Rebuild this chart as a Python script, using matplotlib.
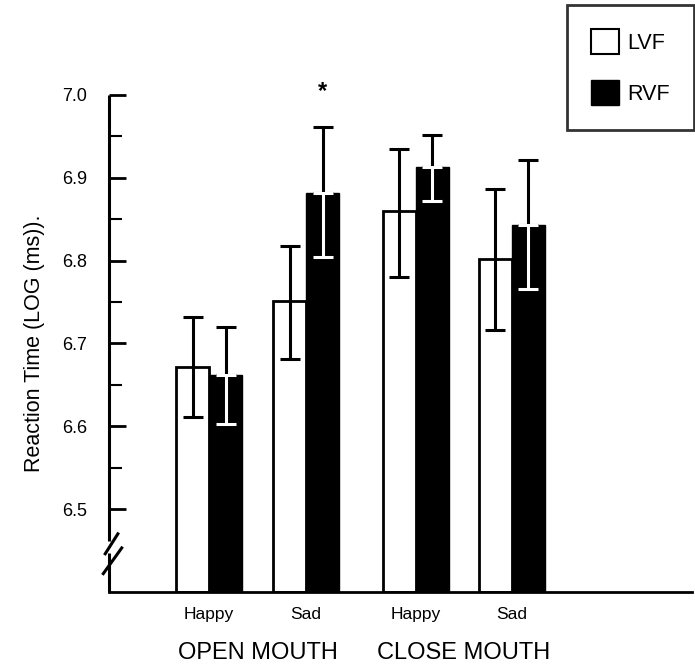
import matplotlib
matplotlib.use('Agg')
import matplotlib.pyplot as plt
from matplotlib.patches import Patch

plt.rcParams['font.family'] = ['Liberation Sans', 'DejaVu Sans']

# group centres (slightly wider gap between mouth conditions)
x_pos = [0.0, 1.0, 2.13, 3.12]
emotions = ['Happy', 'Sad', 'Happy', 'Sad']
mouths = ['OPEN MOUTH', 'CLOSE MOUTH']
lvf = [6.671, 6.751, 6.860, 6.802]
lvf_err_hi = [0.061, 0.066, 0.075, 0.084]
lvf_err_lo = [0.060, 0.070, 0.080, 0.086]
rvf = [6.662, 6.882, 6.913, 6.843]
rvf_err_hi = [0.058, 0.079, 0.039, 0.078]
rvf_err_lo = [0.059, 0.078, 0.041, 0.077]
star_group = 1

ymin, ymax = 6.4, 7.0
w = 0.34

fig = plt.figure(figsize=(6.95, 6.68), dpi=100)
ax = fig.add_axes([0.157, 0.114, 0.839, 0.744])

xl = [x - w / 2 for x in x_pos]
xr = [x + w / 2 for x in x_pos]
ax.bar(xl, [v - ymin for v in lvf], w, bottom=ymin, color='white',
       edgecolor='black', linewidth=2)
ax.bar(xr, [v - ymin for v in rvf], w, bottom=ymin, color='black',
       edgecolor='black', linewidth=1)

ax.errorbar(xl, lvf, yerr=[lvf_err_lo, lvf_err_hi], fmt='none', ecolor='black',
            elinewidth=2.2, capsize=7, capthick=2.2)
# RVF: upper part black, lower part white (inside the black bar)
ax.errorbar(xr, rvf, yerr=[[0] * 4, rvf_err_hi], fmt='none', ecolor='black',
            elinewidth=2.2, capsize=7, capthick=2.2)
ax.errorbar(xr, rvf, yerr=[rvf_err_lo, [0] * 4], fmt='none', ecolor='white',
            elinewidth=2.2, capsize=7, capthick=2.2)

ax.text(xr[star_group], 7.004, '*', ha='center', va='center', fontsize=17,
        fontweight='bold', clip_on=False)

ax.set_xlim(-1.03, 4.98)
ax.set_ylim(ymin, ymax)

ax.spines['top'].set_visible(False)
ax.spines['right'].set_visible(False)
ax.spines['left'].set_visible(False)
ax.spines['bottom'].set_linewidth(2)

# left axis with break
ax.plot([-1.03, -1.03], [6.461, 7.0], color='black', lw=2.2, clip_on=False,
        solid_capstyle='butt')
ax.plot([-1.03, -1.03], [ymin, 6.447], color='black', lw=2.2, clip_on=False,
        solid_capstyle='butt')
ax.plot([-1.07, -0.94], [6.446, 6.470], color='black', lw=2.2, clip_on=False)
ax.plot([-1.09, -0.90], [6.422, 6.453], color='black', lw=2.2, clip_on=False)

ax.set_yticks([6.5, 6.6, 6.7, 6.8, 6.9, 7.0])
ax.set_yticklabels(['6.5', '6.6', '6.7', '6.8', '6.9', '7.0'])
ax.set_yticks([6.55, 6.65, 6.75, 6.85, 6.95], minor=True)
ax.tick_params(axis='y', which='major', direction='in', length=12, width=2,
               labelsize=13, pad=16)
ax.tick_params(axis='y', which='minor', direction='in', length=9, width=1.5)

ax.set_xticks(x_pos)
ax.set_xticklabels(emotions)
ax.tick_params(axis='x', length=0, labelsize=12.5, pad=11)

ax.text((x_pos[0] + x_pos[1]) / 2, -0.123, mouths[0], ha='center', va='center',
        fontsize=17, transform=ax.get_xaxis_transform())
ax.text((x_pos[2] + x_pos[3]) / 2, -0.123, mouths[1], ha='center', va='center',
        fontsize=17, transform=ax.get_xaxis_transform())

ax.set_ylabel('Reaction Time (LOG (ms)).', fontsize=15.5, labelpad=12)

handles = [Patch(facecolor='white', edgecolor='black', linewidth=1.5, label='LVF'),
           Patch(facecolor='black', edgecolor='black', label='RVF')]
leg = fig.legend(handles=handles, loc='upper right',
                 bbox_to_anchor=(0.999, 0.993), fontsize=15.5, frameon=True,
                 fancybox=False, handlelength=1.3, handleheight=1.4,
                 handletextpad=0.35, labelspacing=1.2, borderpad=1.15,
                 borderaxespad=0)
leg.get_frame().set_edgecolor('black')
leg.get_frame().set_linewidth(2)

fig.savefig('out.png', dpi=100)
